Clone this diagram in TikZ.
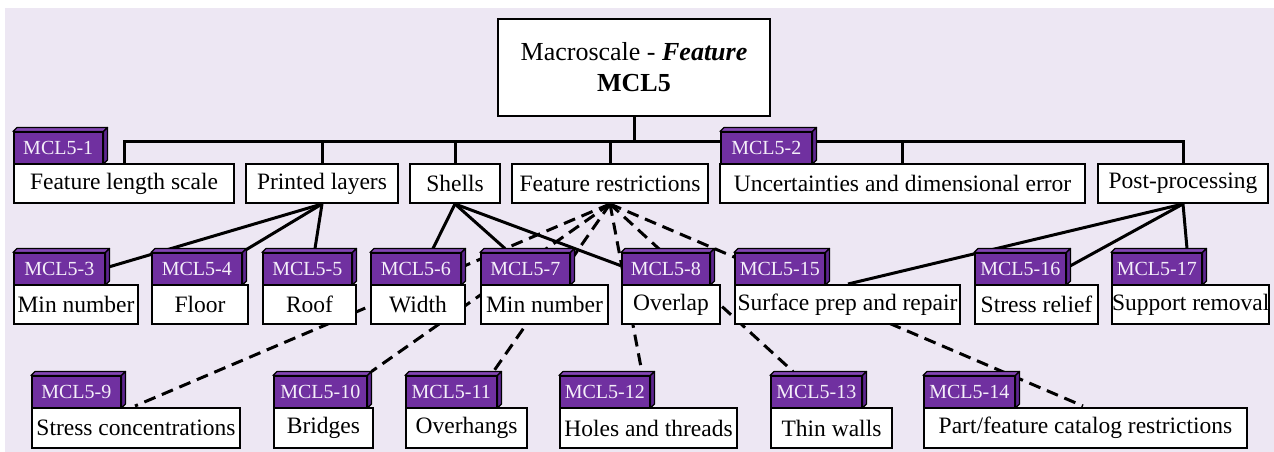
\documentclass[tikz,border=0pt]{standalone}
\usepackage{fontspec}
\setmainfont{Liberation Serif}
\usetikzlibrary{calc}
\definecolor{bgl}{HTML}{EDE7F3}
\definecolor{tagp}{HTML}{7030A0}
\definecolor{tagtop}{HTML}{8446B4}
\definecolor{tagside}{HTML}{5E2690}
\definecolor{tagtxt}{HTML}{F4EEF9}
\pgfdeclarelayer{back}
\pgfdeclarelayer{lines}
\pgfsetlayers{back,lines,main}
\tikzset{
  boxst/.style={draw=black, fill=white, line width=2pt, inner sep=0pt, font=\fontsize{23.5}{26}\selectfont},
  tagst/.style={draw=black, fill=tagp, line width=1.5pt, text=tagtxt, inner sep=0pt, minimum height=31pt, font=\fontsize{20}{21}\selectfont},
  tagface/.style={draw=black, line width=1.2pt, line join=round},
  conn/.style={draw=black, line width=3pt},
  dconn/.style={conn, dash pattern=on 12pt off 7pt},
}
\newcommand\boxnode[6]{\node[boxst, anchor=north west, minimum width={#4pt-#2pt}, minimum height={#5pt-#3pt}] (#1) at (#2,#3) {#6};}
\newcommand\tagnode[5]{%
  \node[tagst, anchor=south west, minimum width=#4pt] (#1) at (#2,#3) {#5};
  \filldraw[tagface, fill=tagtop] (#1.north west) -- ++(4,-4) -- ($(#1.north east)+(4,-4)$) -- (#1.north east) -- cycle;
  \filldraw[tagface, fill=tagside] (#1.north east) -- ++(4,-4) -- ($(#1.south east)+(4,-4)$) -- (#1.south east) -- cycle;}
\begin{document}
\begin{tikzpicture}[x=1pt,y=-1pt]
\useasboundingbox (0,0) rectangle (1274,452);
\begin{pgfonlayer}{back}
  \fill[bgl] (5,8) rectangle (1274,452);
\end{pgfonlayer}

% title
\node[boxst, anchor=north west, minimum width=272pt, minimum height=97pt, align=center, font=\fontsize{26}{31}\selectfont] (title) at (497,18)
  {Macroscale - \textbf{\textit{Feature}}\\\textbf{MCL5}};

% level 1
\boxnode{fls}{13}{163}{233}{202}{Feature length scale}
\boxnode{pl}{245}{163}{397}{202}{Printed layers}
\boxnode{sh}{409}{163}{499}{202}{Shells}
\boxnode{fr}{511}{163}{707}{202}{Feature restrictions}
\boxnode{ude}{719}{163}{1084}{202}{Uncertainties and dimensional error}
\boxnode{pp}{1097}{163}{1267}{202}{Post-processing}
\tagnode{t1}{13}{164}{89}{MCL5-1}
\tagnode{t2}{720}{164}{91}{MCL5-2}

% level 2
\boxnode{b3}{13}{284}{137}{323}{Min number}
\boxnode{b4}{151}{284}{247}{323}{Floor}
\boxnode{b5}{262}{284}{355}{323}{Roof}
\boxnode{b6}{370}{284}{464}{323}{Width}
\boxnode{b7}{480}{284}{607}{323}{Min number}
\boxnode{b8}{621}{284}{719}{323}{Overlap}
\boxnode{b15}{734}{284}{959}{323}{Surface prep and repair}
\boxnode{b16}{974}{284}{1097}{323}{Stress relief}
\boxnode{b17}{1111}{284}{1267}{323}{Support removal}
\tagnode{t3}{13}{285}{91}{MCL5-3}
\tagnode{t4}{151}{285}{90}{MCL5-4}
\tagnode{t5}{262}{285}{89}{MCL5-5}
\tagnode{t6}{370}{285}{90}{MCL5-6}
\tagnode{t7}{480}{285}{89}{MCL5-7}
\tagnode{t8}{621}{285}{88}{MCL5-8}
\tagnode{t15}{734}{285}{90}{MCL5-15}
\tagnode{t16}{974}{285}{91}{MCL5-16}
\tagnode{t17}{1111}{285}{90}{MCL5-17}

% level 3
\boxnode{b9}{31}{407}{239}{447}{Stress concentrations}
\boxnode{b10}{273}{407}{372}{447}{Bridges}
\boxnode{b11}{405}{407}{526}{447}{Overhangs}
\boxnode{b12}{559}{407}{736}{447}{Holes and threads}
\boxnode{b13}{770}{407}{891}{447}{Thin walls}
\boxnode{b14}{923}{407}{1246}{447}{Part/feature catalog restrictions}
\tagnode{t9}{31}{408}{89}{MCL5-9}
\tagnode{t10}{273}{408}{93}{MCL5-10}
\tagnode{t11}{405}{408}{91}{MCL5-11}
\tagnode{t12}{559}{408}{90}{MCL5-12}
\tagnode{t13}{770}{408}{91}{MCL5-13}
\tagnode{t14}{923}{408}{91}{MCL5-14}

\begin{pgfonlayer}{lines}
  \coordinate (bus) at ($(title.south)+(0,24)$);
  \draw[conn] (title.south) -- (bus);
  \draw[conn] (fls.north) |- (bus) -| (pp.north);
  \foreach \n in {pl,sh,fr,ude} \draw[conn] (\n.north) -- (\n.north |- bus);
  % printed layers
  \draw[conn] (pl.south) -- ($(t3.east)+(4,-2)$);
  \draw[conn] (pl.south) -- ($(t4.north east)+(4,-3)$);
  \draw[conn] (pl.south) -- ($(t5.north west)+(53,-4)$);
  % shells
  \draw[conn] (sh.south) -- ($(t6.north west)+(63,-4)$);
  \draw[conn] (sh.south) -- ($(t7.north west)+(25,-4)$);
  \draw[conn] (sh.south) -- ($(t8.west)+(0,-3)$);
  % feature restrictions
  \draw[dconn] (fr.south) -- ($(b9.north west)+(104,-1)$);
  \draw[dconn] (fr.south) -- ($(t10.north east)+(4,-4)$);
  \draw[dconn] (fr.south) -- ($(t11.north east)+(-4,-4)$);
  \draw[dconn] (fr.south) -- ($(t12.north west)+(83,-3)$);
  \draw[dconn] (fr.south) -- ($(t13.north west)+(23,-4)$);
  \draw[dconn] (fr.south) -- ($(b14.north west)+(160,-1)$);
  % post-processing
  \draw[conn] (pp.south) -- ($(b15.north west)+(114,0)$);
  \draw[conn] (pp.south) -- ($(t16.east)+(4,-3)$);
  \draw[conn] (pp.south) -- ($(t17.north west)+(76,-4)$);
\end{pgfonlayer}
\end{tikzpicture}
\end{document}
